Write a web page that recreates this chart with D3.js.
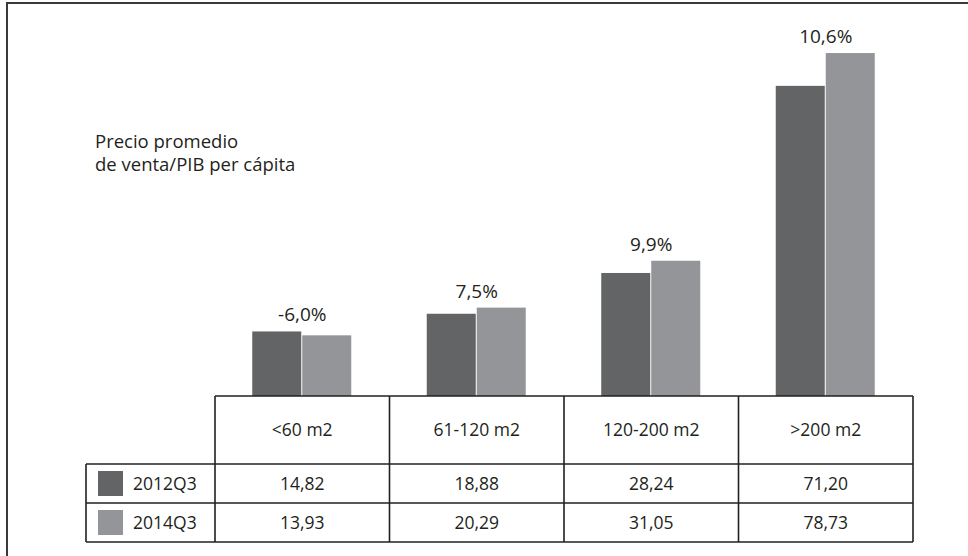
<!DOCTYPE html>
<html>
<head>
<meta charset="utf-8">
<script src="https://cdn.jsdelivr.net/npm/d3@7"></script>
<style>
  html, body { margin: 0; padding: 0; background: #fff; }
  svg { display: block; }
  text { font-family: "Open Sans", "Noto Sans", sans-serif; fill: #231f20; }
</style>
</head>
<body>
<svg id="chart" width="968" height="556"></svg>
<script>
const categories = ["<60 m2", "61-120 m2", "120-200 m2", ">200 m2"];
const seriesNames = ["2012Q3", "2014Q3"];
const values2012 = [14.82, 18.88, 28.24, 71.20];
const values2014 = [13.93, 20.29, 31.05, 78.73];
const changeLabels = ["-6,0%", "7,5%", "9,9%", "10,6%"];
const valueLabels2012 = ["14,82", "18,88", "28,24", "71,20"];
const valueLabels2014 = ["13,93", "20,29", "31,05", "78,73"];
const titleLines = ["Precio promedio", "de venta/PIB per cápita"];
const colors = ["#636466", "#939598"];

const svg = d3.select("#chart");

// outer frame (only top and left edges visible)
svg.append("rect")
  .attr("x", 7).attr("y", 3)
  .attr("width", 1000).attr("height", 600)
  .attr("fill", "none").attr("stroke", "#3a3a3a").attr("stroke-width", 2);

const tableLeft = 215, tableRight = 913;
const legendLeft = 86;
const baseY = 396, row1Y = 464, row2Y = 503, bottomY = 542;

const x = d3.scaleBand().domain(categories).range([tableLeft, tableRight]).padding(0);
const x1 = d3.scaleBand().domain(seriesNames).range([0, 100]).padding(0);
const y = d3.scaleLinear().domain([0, 80]).range([baseY, baseY - 80 * 4.356]);

const data = categories.map((c, i) => ({
  cat: c,
  vals: [values2012[i], values2014[i]],
  change: changeLabels[i]
}));

// bars
const g = svg.append("g");
data.forEach(d => {
  const cx = x(d.cat) + x.bandwidth() / 2;
  seriesNames.forEach((s, j) => {
    g.append("rect")
      .attr("x", cx - 50 + x1(s))
      .attr("y", y(d.vals[j]))
      .attr("width", x1.bandwidth() - 1)
      .attr("height", baseY - y(d.vals[j]))
      .attr("fill", colors[j]);
  });
  g.append("text")
    .attr("x", cx)
    .attr("y", y(d3.max(d.vals)) - 10)
    .attr("text-anchor", "middle")
    .attr("font-size", 19)
    .text(d.change);
});

// title
svg.append("text")
  .attr("x", 95).attr("y", 148)
  .attr("font-size", 18.5)
  .selectAll("tspan").data(titleLines).join("tspan")
  .attr("x", 95)
  .attr("dy", (d, i) => i === 0 ? 0 : 23)
  .text(d => d);

// table lines
const lines = svg.append("g").attr("stroke", "#231f20").attr("stroke-width", 1.6).attr("fill", "none");
lines.append("line").attr("x1", tableLeft).attr("x2", tableRight).attr("y1", baseY).attr("y2", baseY);
[row1Y, row2Y, bottomY].forEach(yy => {
  lines.append("line").attr("x1", legendLeft).attr("x2", tableRight).attr("y1", yy).attr("y2", yy);
});
lines.append("line").attr("x1", legendLeft).attr("x2", legendLeft).attr("y1", row1Y).attr("y2", bottomY);
categories.forEach(c => {
  lines.append("line").attr("x1", x(c)).attr("x2", x(c)).attr("y1", baseY).attr("y2", bottomY);
});
lines.append("line").attr("x1", tableRight).attr("x2", tableRight).attr("y1", baseY).attr("y2", bottomY);

// header labels
categories.forEach(c => {
  svg.append("text")
    .attr("x", x(c) + x.bandwidth() / 2)
    .attr("y", (baseY + row1Y) / 2)
    .attr("dy", "0.35em")
    .attr("text-anchor", "middle")
    .attr("font-size", 17.5)
    .text(c);
});

// data rows
const rows = [
  { y0: row1Y, y1: row2Y, labels: valueLabels2012 },
  { y0: row2Y, y1: bottomY, labels: valueLabels2014 }
];
rows.forEach((r, j) => {
  const cy = (r.y0 + r.y1) / 2;
  svg.append("rect")
    .attr("x", 98).attr("y", cy - 12.5)
    .attr("width", 25).attr("height", 25)
    .attr("fill", colors[j]);
  svg.append("text")
    .attr("x", 133).attr("y", cy).attr("dy", "0.35em")
    .attr("font-size", 17.5)
    .text(seriesNames[j]);
  categories.forEach((c, i) => {
    svg.append("text")
      .attr("x", x(c) + x.bandwidth() / 2)
      .attr("y", cy).attr("dy", "0.35em")
      .attr("text-anchor", "middle")
      .attr("font-size", 17.5)
      .text(r.labels[i]);
  });
});
</script>
</body>
</html>
